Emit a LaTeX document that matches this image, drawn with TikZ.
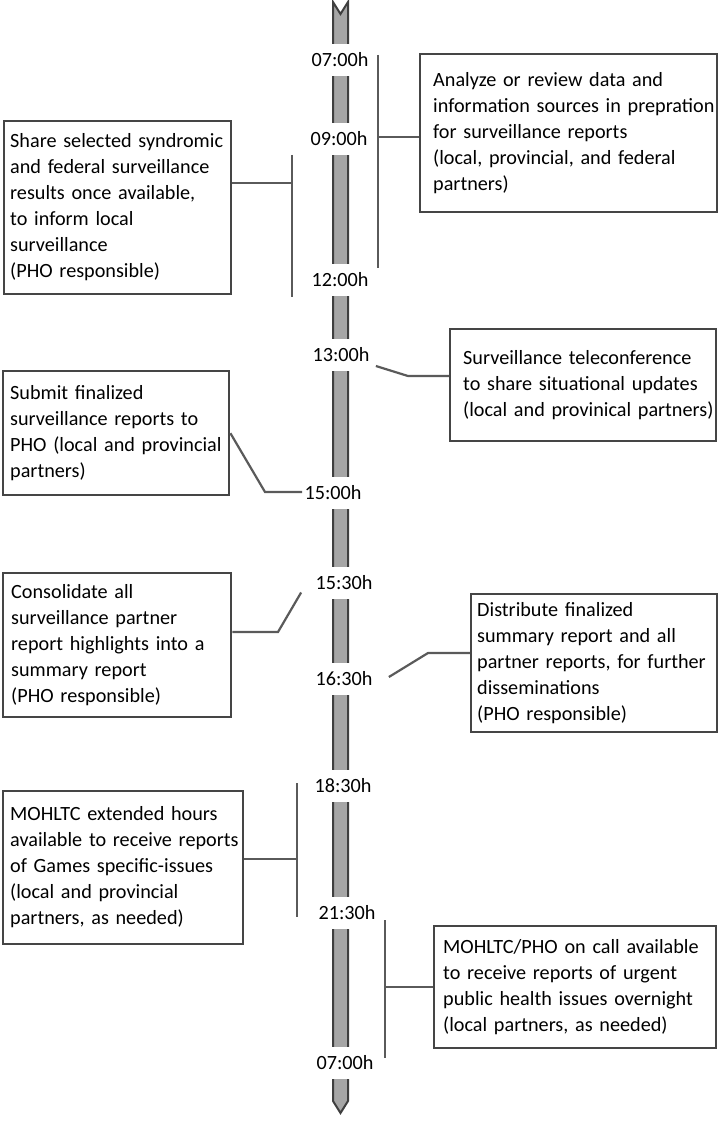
\documentclass[tikz,border=0pt]{standalone}
\usepackage{fontspec}
\setmainfont{Carlito}
\usetikzlibrary{positioning,calc}
\definecolor{boxgray}{HTML}{454545}
\definecolor{linegray}{HTML}{5A5A5A}
\definecolor{barfill}{HTML}{A6A6A6}
\definecolor{bargray}{HTML}{3F3F3F}
\newcommand{\evlines}[1]{\begin{tabular}{@{}l@{}}#1\end{tabular}}

\begin{document}
\begin{tikzpicture}[x=0.5pt,y=-0.5pt,
  font=\fontsize{10.1}{13}\selectfont,
  hour/.style={fill=white,inner xsep=1pt,inner ysep=4.5pt},
  event/.style={draw=boxgray,line width=1.2pt,fill=white,align=left,
    anchor=north west,inner ysep=2pt},
  link/.style={draw=linegray,line width=1.1pt}]
\useasboundingbox (0,0) rectangle (725,1123);

% time bar
\draw[bargray,fill=barfill,line width=1pt] (333,2) -- (340.5,14) -- (348,2)
  -- (348,1101) -- (340.5,1113) -- (333,1101) -- cycle;

\node[hour] (h1) at (340,60) {07:00h};
\node[hour] (h2) at (339,139) {09:00h};
\node[hour] (h3) at (340,280) {12:00h};
\node[hour] (h4) at (341,355) {13:00h};
\node[hour] (h5) at (333,493) {15:00h};
\node[hour] (h6) at (344,583) {15:30h};
\node[hour] (h7) at (344,679) {16:30h};
\node[hour] (h8) at (343,786) {18:30h};
\node[hour] (h9) at (347,913) {21:30h};
\node[hour] (h10) at (345,1063) {07:00h};

% activities
\node[event,inner xsep=6.5pt,text width=135.5pt,minimum height=79pt] (b1) at (419,53)
  {\evlines{Analyze or review data and\\information sources in prepration\\for surveillance reports\\(local, provincial, and federal\\partners)}};
\node[event,inner xsep=3pt,text width=107.5pt,minimum height=86.5pt] (b2) at (3,120)
  {\evlines{Share selected syndromic\\and federal surveillance\\results once available,\\to inform local\\surveillance\\(PHO responsible)}};
\node[event,inner xsep=6.5pt,text width=120pt,minimum height=56pt] (b3) at (449,328)
  {\evlines{Surveillance teleconference\\to share situational updates\\(local and provinical partners)}};
\node[event,inner xsep=3.5pt,text width=106pt,minimum height=62pt] (b4) at (2,370)
  {\evlines{Submit finalized\\surveillance reports to\\PHO (local and provincial\\partners)}};
\node[event,inner xsep=4pt,text width=106pt,minimum height=72pt] (b5) at (2,572)
  {\evlines{Consolidate all\\surveillance partner\\report highlights into a\\summary report\\(PHO responsible)}};
\node[event,inner xsep=3pt,text width=117pt,minimum height=64.5pt] (b6) at (470,593)
  {\evlines{Distribute finalized\\summary report and all\\partner reports, for further\\disseminations\\(PHO responsible)}};
\node[event,inner xsep=3.5pt,text width=113pt,minimum height=76.5pt] (b7) at (2,790)
  {\evlines{MOHLTC extended hours\\available to receive reports\\of Games specific-issues\\(local and provincial\\partners, as needed)}};
\node[event,inner xsep=4.5pt,text width=132pt,minimum height=61pt] (b8) at (433,925)
  {\evlines{MOHLTC/PHO on call available\\to receive reports of urgent\\public health issues overnight\\(local partners, as needed)}};

% brackets and leaders
\coordinate (r1) at (378,137);
\draw[link] (378,55) -- (378,268);
\draw[link] (b1.west |- r1) -- (r1);

\coordinate (r2) at (292,183);
\draw[link] (292,155) -- (292,297);
\draw[link] (b2.east |- r2) -- (r2);

\coordinate (k3) at (408,376);
\draw[link] ($(h4.east)+(4,11)$) -- (k3) -- (b3.west |- k3);

\coordinate (k4) at (265,492);
\draw[link] (b4.east) -- (k4) -- (h5.west |- k4);

\coordinate (k5) at (278,632);
\draw[link] (b5.east |- k5) -- (k5) -- ($(h6.south west)+(-12,-7)$);

\coordinate (k6) at (428,653);
\draw[link] ($(h7.east)+(14,-2)$) -- (k6) -- (b6.west |- k6);

\coordinate (r7) at (297,859);
\draw[link] (297,783) -- (297,917);
\draw[link] (b7.east |- r7) -- (r7);

\coordinate (r8) at (385,987);
\draw[link] (385,920) -- (385,1058);
\draw[link] (b8.west |- r8) -- (r8);
\end{tikzpicture}
\end{document}
